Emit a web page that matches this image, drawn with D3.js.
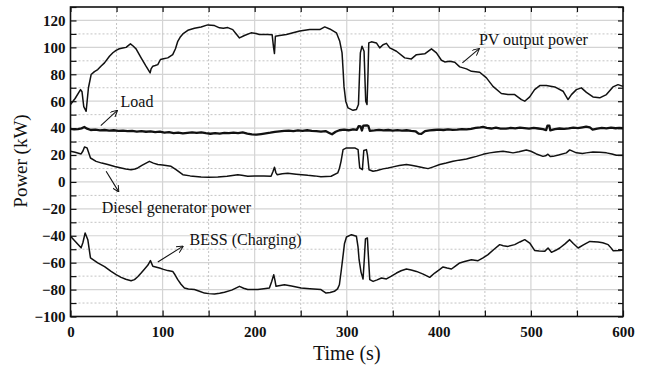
<!DOCTYPE html>
<html lang="en">
<head>
  <meta charset="UTF-8">
  <title>Power flows</title>
  <script src="https://cdnjs.cloudflare.com/ajax/libs/d3/7.8.5/d3.min.js"></script>
  <style>
    body { margin: 0; background: white; }
    svg { display: block; background: white; }
    text { font-family: "Times New Roman", Times, "Liberation Serif", Tinos, serif; fill: #111; }
    .tick text { font-size: 15px; font-weight: bold; }
  </style>
</head>
<body>
  <script>
    // [time (s), power (kW)]
    var pvPower = [
      [0,57.5],[5,62],[10.9,68.6],[12.5,67],[14.4,56],[17,52.5],[19.5,70],[22.4,79.8],[26,82],[29.6,83.5],
      [33,86],[36.9,88.5],[42.3,93.4],[46,96],[49.5,97.8],[53,99],[56.8,99.6],[60.4,100],[63,101.5],[65.1,102.6],
      [68,101],[71.2,98.9],[76.7,92.2],[82,86],[86.5,81],[87.5,84],[89.4,86],[92,86.5],[94.8,87.2],[97.7,91],
      [101,91.5],[105.6,92.2],[111,94.6],[114,99],[116.5,104.5],[119,107.5],[122,110],[127.4,112.7],[134.6,114.2],
      [141.8,115.2],[149,116.7],[156.4,116.2],[161.8,114.5],[166,114.2],[170.8,114.7],[176.2,113.2],[180,110],
      [183.5,107],[188.9,108.8],[196.1,110.8],[201.5,110.3],[205,109.5],[214,109.5],[219,109.3],[220.5,100],
      [221.5,95.4],[222.5,108.3],[227.2,108.8],[234.5,109.5],[241.7,110.8],[249,112.2],[259.8,113.2],[270.7,113.2],
      [276.1,115.2],[281.5,113.7],[288.8,110.8],[292.4,104.5],[294.9,95.9],[296,83.5],[297,71],[298.9,60],
      [301.4,55],[306.8,53.2],[310.5,53.8],[312.7,57.5],[313.8,78.5],[314.8,95.9],[316.6,100.8],[318.8,97.1],
      [319.9,73.6],[320.6,60],[322,57.5],[323.1,81],[323.9,103.3],[326.8,104.1],[332.2,103.3],[335.8,99.6],
      [339.4,102],[343.1,103],[346.7,99.6],[354,97.1],[363,92.2],[370.2,91.4],[375.7,94.6],[384.7,95.2],
      [392,98.9],[397.4,95.9],[402.8,90.4],[406.4,89.2],[411.8,89.7],[417.3,89],[422.7,85.5],[430,84],
      [435.4,82.2],[444.4,81.5],[451.7,77.3],[458.8,71],[467.9,65.7],[475.1,64.9],[482.4,64.9],[489.7,61.2],
      [493.3,60],[498.7,63.2],[504,68.6],[509.6,71.6],[516.8,71.6],[525.9,70.6],[534.9,67.4],[540.3,61.2],
      [544,64.9],[549.4,68.6],[554.8,69.9],[560.3,66.6],[567.4,63.2],[574.7,62.5],[582,64.9],[589.1,70.6],
      [594.6,72.3],[600,71]
    ];

    var loadPower = [
      [0,39.5],[4,39],[8,39.3],[12,39.8],[15,40.8],[18,39.6],[22,38.6],[27,38.8],[32,38.3],[37,38.6],
      [42,38.1],[47,38.4],[52,37.9],[57,38.2],[62,37.7],[67,38],[72,37.4],[77,37.8],[82,37.3],[87,37.6],
      [92,37],[97,37.4],[102,36.6],[107,37],[112,36.3],[117,36.7],[122,36.1],[127,36.5],[132,36.9],[137,36.4],
      [142,36.9],[147,36.2],[152,35.8],[157,36.3],[162,35.9],[167,36.4],[172,36.2],[177,36.7],[182,36.3],
      [187,36.8],[192,35.9],[197,35.3],[202,35.1],[207,35.6],[212,36.1],[217,36.6],[222,37.2],[227,37.6],
      [232,37.9],[237,38.2],[242,37.8],[247,38.3],[252,38],[257,38.4],[262,37.9],[267,37.7],[272,37.4],
      [277,37.8],[281,36.4],[284,35.4],[288,37.3],[292,38.4],[297,38.8],[302,38.4],[307,39],[311,38.7],
      [313,41.5],[315,41.2],[316.5,38.2],[318,41.8],[322,42],[323.5,41.6],[325,38],[330,38.3],[335,38.7],
      [340,38.3],[345,38.6],[350,38.1],[355,38.5],[360,38.2],[365,38.4],[370,37.9],[375,37.5],[378,35.9],
      [381,35.7],[385,37.8],[390,38.3],[395,38.6],[400,38.9],[405,38.6],[410,39.1],[415,38.7],[420,38.9],
      [425,39.3],[430,39],[435,39.5],[440,40.2],[445,40.6],[448,40.9],[452,40.2],[457,39.7],[462,40.3],
      [467,39.6],[473,39.6],[478,40.1],[483,39.8],[488,40.3],[493,40],[498,39.6],[503,40.2],[508,39.7],
      [513,39.2],[516.5,38.5],[518,41.8],[520,41.9],[521,38.4],[526,39.2],[531,39.7],[536,39.4],[541,39.8],
      [546,40.3],[551,40],[556,40.6],[560,41.1],[564,40.5],[567,38.9],[572,39.6],[577,40.1],[582,39.8],
      [587,40.3],[592,39.9],[596,40.2],[600,39.9]
    ];

    var dieselPower = [
      [0,22.8],[5,22],[11.5,20.8],[13.5,23],[15.2,26],[18,25.3],[21.7,17.8],[27.8,15.3],[34,14],[40.5,12.9],
      [48,11.5],[55,10.4],[60,9.6],[65.8,9.1],[70,9.6],[73,10.4],[78,12.5],[85.7,15.3],[90,14],[94.8,12.9],
      [100,12.6],[109.2,11.6],[115,9],[122,5.4],[130,4.5],[141.8,3.7],[150,3.5],[160,3.7],[170,4.3],
      [181.7,5.4],[186,5],[192.5,4.2],[200,4.5],[210,4.4],[217.8,4.2],[220,8],[221.5,10.9],[223,7],
      [224.4,5.4],[230,6],[236,6.4],[245,5.8],[257.7,4.9],[265,4.5],[272,3.9],[283,4.2],[290.2,6.7],
      [292,10],[293.8,15.3],[296,24],[299.7,25.3],[308.7,25.3],[312.3,24],[313.3,16],[314.1,10.4],[317,9.1],
      [318.5,23.3],[321.4,24],[322.5,20],[324.2,9.1],[328.6,7.9],[333,8.5],[339.4,9.7],[345,10.4],
      [350.3,11.2],[357,12.2],[364.8,12.9],[370,12.4],[375.7,11.6],[382,10.8],[388.3,9.9],[394,11.2],
      [401,12.9],[408,14],[415.4,15.3],[422,16.2],[430,17.1],[435,18],[440.8,19],[448,20.5],[455.3,21.6],
      [462,22.3],[469.7,22.8],[475,22.3],[480.6,21.6],[487,22.5],[495,23.8],[500,22.8],[505.9,20.8],
      [513.1,19],[516,19.4],[518.5,20.6],[521,18.9],[524,19],[530,20],[538.5,21.6],[542.1,23.8],[549.4,21.6],
      [556,21.1],[560,21.6],[567.4,22.3],[575,22.1],[582,21.6],[588,20.8],[592.8,19.8],[600,19.9]
    ];

    var bessPower = [
      [0,-40.4],[5,-44],[11.5,-49],[13.5,-45],[15.9,-37.9],[18.8,-42.9],[21.7,-56.5],[29.6,-60.2],[37,-63],
      [44.1,-66.5],[50,-69],[55,-70.9],[60,-72.3],[65.8,-73.4],[69.5,-72.6],[73,-70.5],[76.7,-67.7],[80,-65],
      [83.9,-62],[86.8,-58.5],[89.4,-62.7],[96.6,-63.9],[101,-65],[105.6,-65.9],[111,-66.5],[113.5,-69],
      [116.5,-72.6],[120,-76],[123.7,-78.8],[128,-79.6],[134.6,-80],[140,-81.2],[145.5,-82.6],[150,-83],
      [156.4,-83.3],[162,-82.8],[167.2,-82],[175,-80.4],[183.5,-77.6],[188,-79],[192.5,-80],[203.4,-80],
      [210,-79.3],[216,-78.8],[218.5,-74],[220.7,-68.9],[222,-73],[223.2,-77.6],[232.3,-76.4],[240,-77.4],
      [250.4,-78.8],[260,-79.4],[272,-80],[277.5,-82.6],[282,-82.2],[286.6,-81.3],[290,-79.5],[292,-76.4],
      [294,-66],[295.7,-56.5],[297.5,-46],[299.7,-40.9],[305.1,-39.2],[310.5,-40.4],[312.2,-48],[313.4,-57.8],
      [315.5,-67],[317.7,-72.1],[319,-58],[320.3,-42.4],[322.4,-41.6],[323.5,-55],[325,-72.6],[328.6,-73.9],
      [333,-72.8],[337.7,-71.4],[343.1,-72.1],[348,-70.2],[354,-67.7],[359,-66],[364.8,-64.7],[370,-65.5],
      [375.7,-66.5],[383,-68.5],[390.1,-70.9],[395.5,-67.7],[400,-65.5],[404.6,-63.2],[409,-64],[413.7,-64.7],
      [418,-62.5],[422.7,-60.2],[428,-59.2],[435.4,-57.8],[442.6,-58.5],[448,-56.5],[453.4,-54],[460,-50],
      [466.1,-46.6],[470,-47.4],[475.1,-47.9],[482.4,-46.6],[488,-44.6],[493.3,-42.9],[498.7,-45.4],[504,-50.9],
      [509,-51.4],[514.9,-51.6],[518.6,-49.1],[522.3,-52.3],[527,-50.8],[531.3,-49.1],[537,-46],[542.1,-42.9],
      [546,-45.8],[551.3,-49.1],[557,-46.8],[564,-44.2],[572.9,-44.6],[578,-45.2],[583.9,-46.6],[587,-49],
      [589.4,-51.1],[596.6,-50.9],[600,-50.5]
    ];

    var xTicks = [0, 100, 200, 300, 400, 500, 600];
    var yTicks = [-100, -80, -60, -40, -20, 0, 20, 40, 60, 80, 100, 120];

    // label text, label anchor [t, kW], arrow from [t, kW] to [t, kW]
    var notes = [
      { text: "PV output power", at: [443.5, 102], from: [425.6, 88.5], to: [443.6, 98.9] },
      { text: "Load", at: [54.3, 56], from: [32.9, 41.9], to: [50.6, 53] },
      { text: "Diesel generator power", at: [34, -22.8], from: [38.7, 7.9], to: [52.1, -7] },
      { text: "BESS (Charging)", at: [129.2, -46.6], from: [94.8, -59.5], to: [121.9, -47.9] }
    ];

    var w = 650, h = 372;
    var plotLeft = 70.5, plotRight = 623, plotTop = 7, plotBottom = 316.5;

    var svg = d3.select("body").append("svg")
      .attr("width", w)
      .attr("height", h);

    var x = d3.scaleLinear().domain([0, 600]).range([plotLeft, plotRight]);
    var y = d3.scaleLinear().domain([-100, 130]).range([plotBottom, plotTop]);

    var minorX = d3.range(0, 601, 50);
    var minorY = d3.range(-100, 131, 10);

    // grid: solid at major steps, dotted in between
    var grid = svg.append("g");
    minorX.forEach(function(t) {
      if (t == 0 || t == 600) return;
      var major = t % 100 == 0;
      grid.append("line")
        .attr("x1", x(t)).attr("x2", x(t))
        .attr("y1", plotTop).attr("y2", plotBottom)
        .attr("stroke", major ? "#d4d4d4" : "#c4c4c4")
        .attr("stroke-width", major ? 1.2 : 1)
        .attr("stroke-dasharray", major ? null : "2,2");
    });
    minorY.forEach(function(v) {
      if (v == -100 || v == 130) return;
      var major = v % 20 == 0;
      grid.append("line")
        .attr("x1", plotLeft).attr("x2", plotRight)
        .attr("y1", y(v)).attr("y2", y(v))
        .attr("stroke", major ? "#d4d4d4" : "#c4c4c4")
        .attr("stroke-width", major ? 1.2 : 1)
        .attr("stroke-dasharray", major ? null : "2,2");
    });

    // axes, ticks pointing inwards
    function tidy(g) {
      g.select(".domain").remove();
      g.selectAll(".tick line").attr("stroke", "#111").attr("stroke-width", 1.2);
    }

    svg.append("g")
      .attr("transform", "translate(0," + plotBottom + ")")
      .call(d3.axisBottom(x).tickValues(minorX).tickSize(-6).tickFormat(""))
      .call(tidy);
    svg.append("g")
      .attr("transform", "translate(0," + plotBottom + ")")
      .call(d3.axisBottom(x).tickValues(xTicks).tickSize(0).tickPadding(10).tickFormat(d3.format("d")))
      .call(tidy);
    svg.append("g")
      .attr("transform", "translate(0," + plotTop + ")")
      .call(d3.axisTop(x).tickValues(minorX).tickSize(-5).tickFormat(""))
      .call(tidy);
    svg.append("g")
      .attr("transform", "translate(" + plotLeft + ",0)")
      .call(d3.axisLeft(y).tickValues(minorY).tickSize(-6).tickFormat(""))
      .call(tidy);
    svg.append("g")
      .attr("transform", "translate(" + plotLeft + ",0)")
      .call(d3.axisLeft(y).tickValues(yTicks).tickSize(0).tickPadding(5).tickFormat(d3.format("d")))
      .call(tidy);
    svg.append("g")
      .attr("transform", "translate(" + plotRight + ",0)")
      .call(d3.axisRight(y).tickValues(minorY).tickSize(-5).tickFormat(""))
      .call(tidy);

    svg.selectAll(".tick text")
      .attr("fill", "#111")
      .attr("font-family", null);

    // series
    var line = d3.line()
      .x(function(d) { return x(d[0]); })
      .y(function(d) { return y(d[1]); });

    var series = [
      { data: pvPower, width: 1.5 },
      { data: loadPower, width: 2.3 },
      { data: dieselPower, width: 1.5 },
      { data: bessPower, width: 1.5 }
    ];

    svg.append("g").selectAll("path")
      .data(series)
      .enter()
      .append("path")
      .attr("d", function(d) { return line(d.data); })
      .attr("fill", "none")
      .attr("stroke", "#111")
      .attr("stroke-width", function(d) { return d.width; })
      .attr("stroke-linejoin", "round");

    // frame
    svg.append("rect")
      .attr("x", plotLeft).attr("y", plotTop)
      .attr("width", plotRight - plotLeft).attr("height", plotBottom - plotTop)
      .attr("fill", "none")
      .attr("stroke", "#111")
      .attr("stroke-width", 1.6);

    // annotations
    svg.append("defs").append("marker")
      .attr("id", "head")
      .attr("viewBox", "0 0 10 10")
      .attr("refX", 9).attr("refY", 5)
      .attr("markerWidth", 7).attr("markerHeight", 7)
      .attr("markerUnits", "userSpaceOnUse")
      .attr("orient", "auto")
      .append("path")
      .attr("d", "M0,0 L10,5 L0,10")
      .attr("fill", "none")
      .attr("stroke", "#111")
      .attr("stroke-width", 1.4);

    var ann = svg.append("g");
    notes.forEach(function(n) {
      ann.append("line")
        .attr("x1", x(n.from[0])).attr("y1", y(n.from[1]))
        .attr("x2", x(n.to[0])).attr("y2", y(n.to[1]))
        .attr("stroke", "#111")
        .attr("stroke-width", 1.1)
        .attr("marker-end", "url(#head)");
      ann.append("text")
        .attr("x", x(n.at[0])).attr("y", y(n.at[1]))
        .attr("font-size", 16)
        .text(n.text);
    });

    // axis titles
    svg.append("text")
      .attr("x", (plotLeft + plotRight) / 2).attr("y", 360)
      .attr("text-anchor", "middle")
      .attr("font-size", 20)
      .text("Time (s)");

    svg.append("text")
      .attr("transform", "translate(27,161) rotate(-90)")
      .attr("text-anchor", "middle")
      .attr("font-size", 19)
      .text("Power (kW)");
  </script>
</body>
</html>
